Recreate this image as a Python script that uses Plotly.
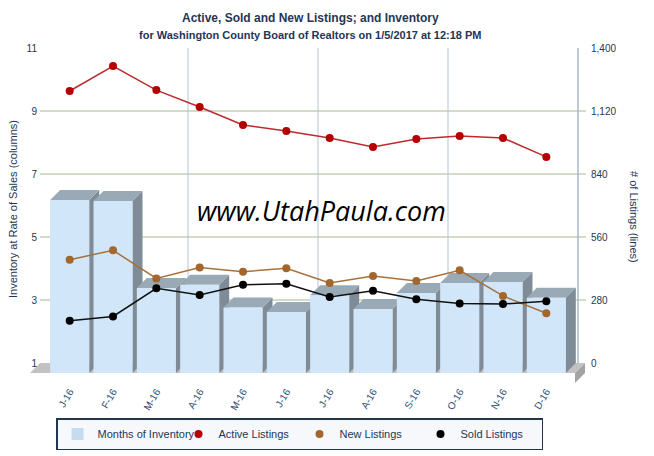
import plotly.graph_objects as go

# ---------------- data ----------------
months = ["J-16", "F-16", "M-16", "A-16", "M-16", "J-16", "J-16", "A-16", "S-16", "O-16", "N-16", "D-16"]
months_of_inventory = [6.49, 6.46, 3.70, 3.80, 3.08, 2.94, 3.47, 3.03, 3.54, 3.86, 3.89, 3.39]
active_listings = [1209, 1320, 1213, 1138, 1058, 1031, 1000, 960, 996, 1009, 1000, 916]
new_listings = [459, 501, 376, 424, 406, 421, 356, 387, 364, 412, 298, 221]
sold_listings = [188, 207, 332, 302, 348, 352, 293, 321, 283, 264, 262, 274]
left_ticks = [1, 3, 5, 7, 9, 11]
right_ticks = [0, 280, 560, 840, 1120, 1400]

# ---------------- style / geometry ----------------
FONT = "Liberation Sans"
NAVY = "#1f3656"
FRONT = "#d1e6f8"
SIDE = "#7f8c97"
TOP = "#9aa9b6"
BW = 0.45          # half bar width (category units)
DX = 0.2308        # 3D depth in x (category units)
DYL = 0.3175       # 3D depth in left-axis units
DYR = 44.44        # 3D depth in right-axis units
X0, X1 = -0.916, 12.008
YL0, YL1 = 1 - 2 * DYL, 11
YR0, YR1 = -2 * DYR, 1400

fig = go.Figure()

# floor
fig.add_trace(go.Scatter(
    x=[-0.916, -0.685, 11.893, 11.662, -0.916],
    y=[1 - DYL, 1, 1, 1 - DYL, 1 - DYL],
    fill="toself", fillcolor="#c2c2c2", line=dict(width=0), mode="lines",
    showlegend=False, hoverinfo="skip"))
fig.add_trace(go.Scatter(
    x=[11.662, 11.893, 11.893, 11.662, 11.662],
    y=[1 - DYL, 1, 1 - DYL, 1 - 2 * DYL, 1 - DYL],
    fill="toself", fillcolor="#a3a3a3", line=dict(width=0), mode="lines",
    showlegend=False, hoverinfo="skip"))

# bar trace (front faces, legend entry)
fig.add_trace(go.Bar(
    x=list(range(len(months))), y=[v - 1 for v in months_of_inventory],
    base=1 - DYL, width=2 * BW, marker=dict(color="#c5dcf0", line=dict(width=0)),
    name="Months of Inventory", yaxis="y"))

# 3D faces per bar, drawn left to right
for i, v in enumerate(months_of_inventory):
    ft = v - DYL
    fb = 1 - DYL
    fig.add_trace(go.Scatter(
        x=[i + BW, i + BW, i + BW + DX, i + BW + DX, i + BW],
        y=[fb, ft, v, 1, fb], fill="toself", fillcolor=SIDE,
        line=dict(width=0), mode="lines", showlegend=False, hoverinfo="skip"))
    fig.add_trace(go.Scatter(
        x=[i - BW, i + BW, i + BW + DX, i - BW + DX, i - BW],
        y=[ft, ft, v, v, ft], fill="toself", fillcolor=TOP,
        line=dict(width=0), mode="lines", showlegend=False, hoverinfo="skip"))
    fig.add_trace(go.Scatter(
        x=[i - BW, i + BW, i + BW, i - BW, i - BW],
        y=[fb, fb, ft, ft, fb], fill="toself", fillcolor=FRONT,
        line=dict(width=0), mode="lines", showlegend=False, hoverinfo="skip"))

# lines (line drawn separately from markers so legend shows dots only)
series = [("Active Listings", active_listings, "#c0282d", "#b40000"),
          ("New Listings", new_listings, "#a8703a", "#a3672e"),
          ("Sold Listings", sold_listings, "#111111", "#000000")]
for name, vals, lc, mc in series:
    fig.add_trace(go.Scatter(
        x=list(range(len(months))), y=vals, yaxis="y2", mode="lines",
        line=dict(color=lc, width=1.5), showlegend=False, legendgroup=name, hoverinfo="skip"))
for name, vals, lc, mc in series:
    fig.add_trace(go.Scatter(
        x=list(range(len(months))), y=vals, name=name, yaxis="y2", legendgroup=name,
        mode="markers", marker=dict(color=mc, size=8)))

# gridlines as shapes
shapes = []
for yv in left_ticks[1:-1]:
    shapes.append(dict(type="line", xref="x", yref="y", x0=-0.685, x1=11.915, y0=yv, y1=yv,
                       line=dict(color="#a7b694", width=1), layer="below"))
for xv in [2.5 + DX, 5.5 + DX, 8.5 + DX]:
    shapes.append(dict(type="line", xref="x", yref="y", x0=xv, x1=xv, y0=1, y1=11,
                       line=dict(color="#b5c4d0", width=1), layer="below"))
shapes.append(dict(type="line", xref="x", yref="y", x0=11.5 + DX, x1=11.5 + DX, y0=1, y1=11,
                   line=dict(color="#a9b8c5", width=1.5), layer="below"))

annotations = [
    dict(text="<b>Active, Sold and New Listings; and Inventory</b>", xref="paper", yref="paper",
         x=(310 - 30) / 560, y=(383 - 18) / 335, showarrow=False,
         font=dict(family=FONT, size=12, color=NAVY), xanchor="center", yanchor="middle"),
    dict(text="<b>for Washington County Board of Realtors on 1/5/2017 at 12:18 PM</b>", xref="paper",
         yref="paper", x=(310 - 30) / 560, y=(383 - 35) / 335, showarrow=False,
         font=dict(family=FONT, size=11, color=NAVY), xanchor="center", yanchor="middle"),
    dict(text="Inventory at Rate of Sales (columns)", xref="paper", yref="paper",
         x=(13 - 30) / 560, y=(383 - 209) / 335, showarrow=False, textangle=-90,
         font=dict(family=FONT, size=11, color=NAVY), xanchor="center", yanchor="middle"),
    dict(text="# of Listings (lines)", xref="paper", yref="paper",
         x=(634 - 30) / 560, y=(383 - 217) / 335, showarrow=False, textangle=90,
         font=dict(family=FONT, size=11, color=NAVY), xanchor="center", yanchor="middle"),
    dict(text="<i>www.UtahPaula.com</i>", xref="paper", yref="paper",
         x=(321 - 30) / 560, y=(383 - 210) / 335, showarrow=False,
         font=dict(family="Open Sans", size=27, color="#000000"), xanchor="center", yanchor="middle"),
]

fig.update_layout(
    width=654, height=456,
    margin=dict(l=30, r=64, t=48, b=73, autoexpand=False),
    paper_bgcolor="white", plot_bgcolor="white",
    font=dict(family=FONT, size=10, color=NAVY),
    barmode="overlay",
    xaxis=dict(range=[X0, X1], tickvals=list(range(len(months))), ticktext=months,
               tickangle=-60, showgrid=False, zeroline=False, showline=False, ticks="",
               automargin=False, tickfont=dict(family=FONT, size=10, color="#2d4d74")),
    yaxis=dict(range=[YL0, YL1], tickvals=left_ticks, showgrid=False, zeroline=False,
               showline=False, ticks="", ticklabelstandoff=-8, automargin=False,
               tickfont=dict(family=FONT, size=10, color="#26384f")),
    yaxis2=dict(range=[YR0, YR1], tickvals=right_ticks, tickformat=",", overlaying="y", side="right",
                showgrid=False, zeroline=False, showline=False, ticks="", automargin=False,
                tickfont=dict(family=FONT, size=10, color="#26384f")),
    shapes=shapes,
    annotations=annotations,
    showlegend=True,
    legend=dict(orientation="h", x=56 / 654, y=(456 - 418) / 456, xref="container", yref="container",
                xanchor="left", yanchor="top",
                bgcolor="#f6f8fb", bordercolor="#1f3550", borderwidth=1.5,
                entrywidth=76, entrywidthmode="pixels", itemwidth=30,
                font=dict(family=FONT, size=11, color=NAVY), traceorder="normal"),
)

fig.write_html("out.html")
